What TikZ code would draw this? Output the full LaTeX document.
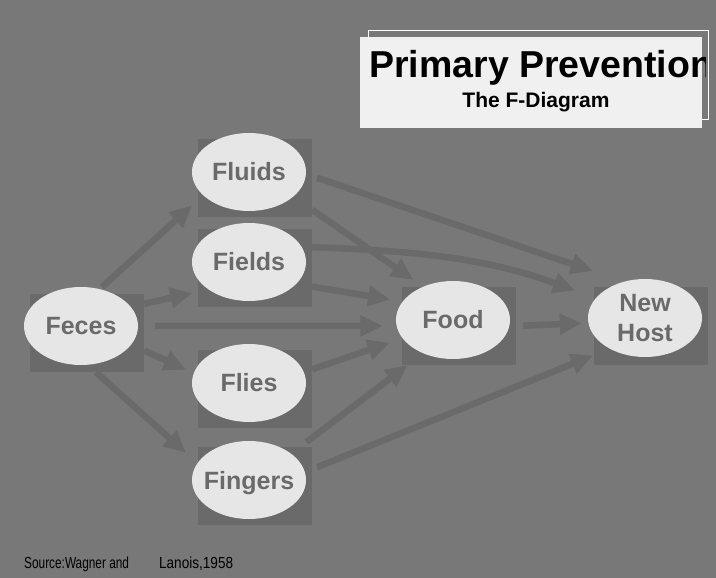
\documentclass[tikz,border=0pt]{standalone}
\usepackage{fontspec}
\setmainfont{Liberation Sans}
\usetikzlibrary{shapes.geometric,arrows.meta}

\definecolor{slidebg}{HTML}{787878}
\definecolor{boxgray}{HTML}{6A6A6A}
\definecolor{blobfill}{HTML}{E6E6E6}
\definecolor{titlefill}{HTML}{F0F0F0}

\tikzset{
  blob/.style={ellipse, fill=blobfill, minimum width=114pt, minimum height=78pt,
    inner xsep=-8pt, inner ysep=0pt, text=boxgray,
    font=\fontsize{25}{30}\selectfont\bfseries},
  backbox/.style={rectangle, fill=boxgray, minimum width=114pt,
    minimum height=78pt, inner sep=0pt},
  flow/.style={draw=boxgray, line width=6.5pt,
    -{Triangle[length=22pt,width=20pt]}},
}

\begin{document}
\begin{tikzpicture}[x=1pt,y=-1pt]
  \fill[slidebg] (0,0) rectangle (716,578);

  % title panel
  \draw[white, line width=1pt] (368,31) rectangle (708,120);
  \fill[titlefill] (360,37) rectangle (702,128);
  \begin{scope}
    \clip (355,25) rectangle (705,135);
    \node[anchor=base west, inner sep=0pt,
      font=\fontsize{37.5}{40}\selectfont\bfseries] (title) at (369,78)
      {Primary Prevention};
  \end{scope}
  \node[anchor=base, inner sep=0pt, font=\fontsize{21}{24}\selectfont\bfseries]
    (subtitle) at (536,108) {The F-Diagram};

  % the F's
  \node[backbox] (feces-box) at (87,333) {};
  \node[blob] (feces) at (81,326) {Feces};
  \node[backbox] (fluids-box) at (255,178) {};
  \node[blob] (fluids) at (249,172) {Fluids};
  \node[backbox] (fields-box) at (255,268) {};
  \node[blob] (fields) at (249,262) {Fields};
  \node[backbox] (flies-box) at (255,389) {};
  \node[blob] (flies) at (249,383) {Flies};
  \node[backbox] (fingers-box) at (255,486) {};
  \node[blob, text depth=0pt] (fingers) at (249,480) {Fingers};
  \node[backbox] (food-box) at (459,326) {};
  \node[blob] (food) at (453,320) {Food};
  \node[backbox] (host-box) at (651,326) {};
  \node[blob, align=center] (host) at (645,318) {New\\Host};

  % routes
  \draw[flow, shorten <=3pt, shorten >=15pt] (feces.63) -- (fluids.207);
  \draw[flow, shorten >=16.5pt] (feces-box.27) -- (fields.214);
  \draw[flow, shorten <=17pt, shorten >=14pt] (feces.east) -- (food.186);
  \draw[flow, shorten >=8.5pt] (feces-box.-17) -- (flies.170);
  \draw[flow, shorten >=15.5pt] (feces-box.-77) -- (fingers.162);

  \draw[flow, shorten <=11.5pt, shorten >=33pt] (fluids.-2) -- (host.120);
  \draw[flow, shorten >=12pt] (fluids-box.-29) -- (food.132);
  \draw[flow, shorten >=22pt] (fields-box.20) to[out=-2,in=160] (host.158);
  \draw[flow, shorten >=12.5pt] (fields-box.-18) -- (food.160);
  \draw[flow, shorten >=13.5pt] (flies-box.19) -- (food.200);
  \draw[flow, shorten <=19pt, shorten >=19.5pt] (fingers.32) -- (food.228);
  \draw[flow, shorten <=13pt, shorten >=18pt] (fingers.8) -- (host.221);
  \draw[flow, shorten <=7pt, shorten >=6.5pt] (food-box.east) -- (host.185);

  % source
  \node[anchor=base west, inner sep=0pt, font=\fontsize{16}{17}\selectfont]
    (source) at (24,568)
    {\scalebox{0.74}[1]{Source:Wagner and}\hspace{30pt}\scalebox{0.85}[1]{Lanois,1958}};
\end{tikzpicture}
\end{document}
